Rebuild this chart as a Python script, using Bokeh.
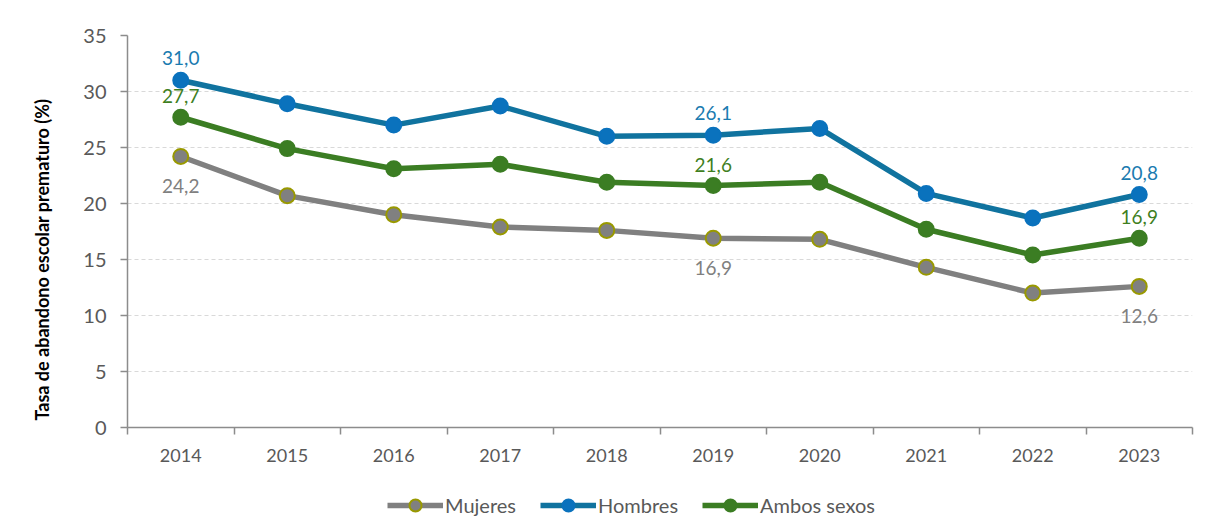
from bokeh.plotting import figure
from bokeh.layouts import column
from bokeh.models import Range1d, FixedTicker, Legend, LegendItem, ColumnDataSource, Title
from bokeh.core.properties import value
from bokeh.embed import file_html
from bokeh.resources import INLINE

years = [2014, 2015, 2016, 2017, 2018, 2019, 2020, 2021, 2022, 2023]
mujeres = [24.2, 20.7, 19.0, 17.9, 17.6, 16.9, 16.8, 14.3, 12.0, 12.6]
hombres = [31.0, 28.9, 27.0, 28.7, 26.0, 26.1, 26.7, 20.9, 18.7, 20.8]
ambos = [27.7, 24.9, 23.1, 23.5, 21.9, 21.6, 21.9, 17.7, 15.4, 16.9]
label_years = [2014, 2019, 2023]
y_ticks = [0, 5, 10, 15, 20, 25, 30, 35]
y_title = "Tasa de abandono escolar prematuro (%)"

FONT = "Lato"
AXIS_GRAY = "#8c8c8c"
TEXT_GRAY = "#595959"

p = figure(frame_width=1065, frame_height=392, output_backend="svg", toolbar_location=None,
           x_range=Range1d(2013.5, 2023.5), y_range=Range1d(0, 35))
p.min_border_left = 127
p.min_border_right = 8
p.min_border_top = 35
p.min_border_bottom = 0
p.outline_line_color = None

# axes
xa = p.xaxis[0]
xa.ticker = FixedTicker(ticks=years, minor_ticks=[y - 0.5 for y in years] + [years[-1] + 0.5])
xa.major_tick_line_color = None
xa.minor_tick_line_color = AXIS_GRAY
xa.minor_tick_out = 7
xa.minor_tick_in = 0
xa.minor_tick_line_width = 1.5
xa.axis_line_color = AXIS_GRAY
xa.axis_line_width = 1.5
xa.major_label_standoff = 14
xa.major_label_text_font = FONT
xa.major_label_text_font_size = "18px"
xa.major_label_text_color = TEXT_GRAY

ya = p.yaxis[0]
ya.ticker = FixedTicker(ticks=y_ticks)
ya.major_tick_line_color = AXIS_GRAY
ya.major_tick_out = 7
ya.major_tick_in = 0
ya.major_tick_line_width = 1.5
ya.minor_tick_line_color = None
ya.axis_line_color = AXIS_GRAY
ya.axis_line_width = 1.5
ya.major_label_standoff = 14
ya.major_label_text_font = FONT
ya.major_label_text_font_size = "20px"
ya.major_label_text_color = TEXT_GRAY

p.add_layout(Title(text=y_title, align="left", offset=7, standoff=56,
                   text_font=FONT, text_font_size="18px", text_font_style="bold",
                   text_color="#000000"), "left")

p.xgrid.grid_line_color = None
p.ygrid.grid_line_color = "#d9d9d9"
p.ygrid.grid_line_dash = "4 3"
p.ygrid.grid_line_width = 1.2

# legend strip (second figure, below the chart)
pl = figure(width=1200, height=56, output_backend="svg", toolbar_location=None,
            x_range=Range1d(0, 1), y_range=Range1d(0, 1), min_border=0)
pl.axis.visible = False
pl.grid.visible = False
pl.outline_line_color = None

series = [
    ("Mujeres", mujeres, "#808080", "#808080", "#999900", "#808080", 30),
    ("Hombres", hombres, "#10739f", "#0a72bd", "#0a72bd", "#1a7bb0", -22),
    ("Ambos sexos", ambos, "#3b7d23", "#3b7d23", "#3b7d23", "#3f7f1f", -21),
]

items = []
for name, vals, lc, mf, ml, tc, off in series:
    src = ColumnDataSource(dict(x=years, y=vals))
    p.line("x", "y", source=src, line_color=lc, line_width=5.5)
    p.scatter("x", "y", source=src, size=15, fill_color=mf, line_color=ml, line_width=2)
    lx = [y for y in years if y in label_years]
    ly = [v for y, v in zip(years, vals) if y in label_years]
    lt = [f"{v:.1f}".replace(".", ",") for v in ly]
    p.text(x=lx, y=ly, text=lt, text_align="center", text_baseline="middle",
           y_offset=off, text_color=tc, text_font=value(FONT), text_font_size="19px")
    # legend proxies with the same styles, kept outside the visible range
    psrc = ColumnDataSource(dict(x=[-10, -9], y=[-10, -10]))
    l1 = pl.line("x", "y", source=psrc, line_color=lc, line_width=5.5)
    l2 = pl.scatter("x", "y", source=psrc, size=15, fill_color=mf, line_color=ml, line_width=2)
    items.append(LegendItem(label=name, renderers=[l1, l2], index=0))

legend = Legend(items=items, orientation="horizontal", location=(260, 0))
legend.glyph_width = 56
legend.glyph_height = 30
legend.label_height = 30
legend.label_text_font = FONT
legend.label_text_font_size = "20px"
legend.label_text_color = TEXT_GRAY
legend.label_standoff = 2
legend.spacing = 24
legend.border_line_color = None
legend.background_fill_alpha = 0
legend.margin = 0
legend.padding = 0
pl.add_layout(legend, "center")

layout = column(p, pl, spacing=0)
open("out.html", "w").write(file_html(layout, INLINE))
